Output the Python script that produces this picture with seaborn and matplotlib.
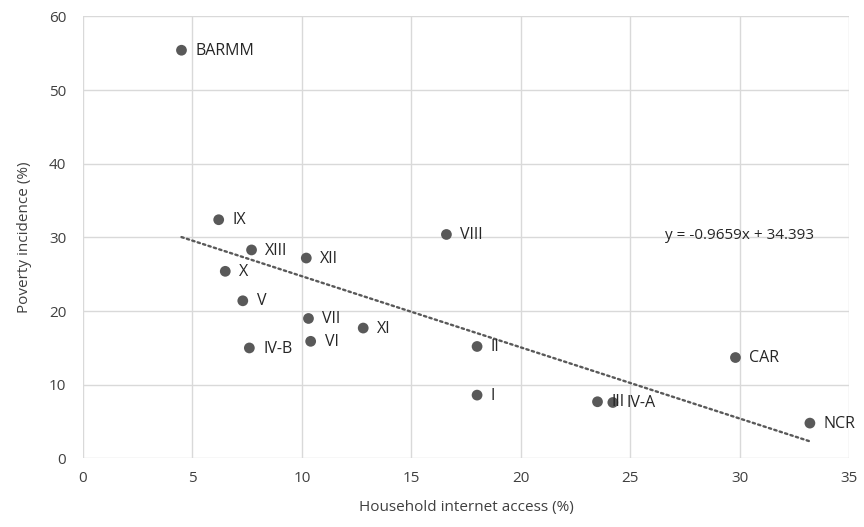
import matplotlib
matplotlib.use("Agg")
import matplotlib.pyplot as plt
import seaborn as sns
import pandas as pd
import numpy as np

regions = ["BARMM", "IX", "XIII", "XII", "X", "V", "VII", "XI", "VI", "IV-B",
           "VIII", "II", "I", "III", "IV-A", "CAR", "NCR"]
internet_access = [4.5, 6.2, 7.7, 10.2, 6.5, 7.3, 10.3, 12.8, 10.4, 7.6,
                   16.6, 18.0, 18.0, 23.5, 24.2, 29.8, 33.2]
poverty_incidence = [55.4, 32.4, 28.3, 27.2, 25.4, 21.4, 19.0, 17.7, 15.9, 15.0,
                     30.4, 15.2, 8.6, 7.7, 7.6, 13.7, 4.8]
slope, intercept = -0.9659, 34.393
x_ticks = [0, 5, 10, 15, 20, 25, 30, 35]
y_ticks = [0, 10, 20, 30, 40, 50, 60]

df = pd.DataFrame({"region": regions, "access": internet_access, "poverty": poverty_incidence})

sns.set_theme(style="white")
plt.rcParams["font.family"] = ["Open Sans", "DejaVu Sans"]

text_color = "#404040"
mark_color = "#595959"
grid_color = "#D9D9D9"

fig = plt.figure(figsize=(8.64, 5.27), dpi=100)
ax = fig.add_axes([0.096, 0.130, 0.887, 0.839])

sns.scatterplot(data=df, x="access", y="poverty", ax=ax, s=60, color=mark_color,
                edgecolor="none", zorder=3, legend=False)

# Linear trendline across the range of the data
xs = np.array([df["access"].min(), df["access"].max()])
ax.plot(xs, slope * xs + intercept, color=mark_color, lw=1.7,
        linestyle=(0, (1, 1.4)), dash_capstyle="round", zorder=2)

for r, x, y in zip(regions, internet_access, poverty_incidence):
    ax.annotate(r, (x, y), xytext=(10, -0.5), textcoords="offset points",
                va="center", ha="left", fontsize=11.5, color="#262626")

ax.text(26.6, 30.2, f"y = {slope}x + {intercept}", fontsize=11,
        color="#262626", va="center", ha="left")

ax.set_xlim(0, 35)
ax.set_ylim(0, 60)
ax.set_xticks(x_ticks)
ax.set_yticks(y_ticks)
ax.grid(True, color=grid_color, lw=1)
ax.set_axisbelow(True)
for s in ax.spines.values():
    s.set_visible(False)
ax.tick_params(axis="both", length=0, labelsize=11, colors=text_color)
ax.tick_params(axis="y", pad=12)
ax.tick_params(axis="x", pad=9)
ax.set_xlabel("Household internet access (%)", fontsize=11, color=text_color, labelpad=10)
ax.set_ylabel("Poverty incidence (%)", fontsize=11, color=text_color, labelpad=12)

fig.savefig("out.png", dpi=100)
